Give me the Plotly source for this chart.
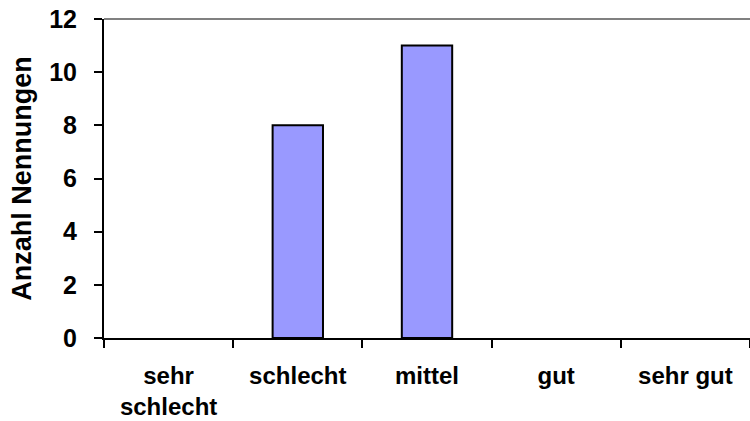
import plotly.graph_objects as go

categories = ["sehr<br>schlecht", "schlecht", "mittel", "gut", "sehr gut"]
values = [0, 8, 11, 0, 0]
y_ticks = [0, 2, 4, 6, 8, 10, 12]

FONT = "Arial, Liberation Sans, sans-serif"

fig = go.Figure(go.Bar(
    x=categories, y=values,
    marker=dict(color="#9999FF",
                line=dict(color="black", width=[2 if v else 0 for v in values])),
    width=0.39,
))

fig.update_layout(
    width=750, height=421,
    margin=dict(l=104, r=0, t=19, b=83),
    plot_bgcolor="white", paper_bgcolor="white",
    showlegend=False,
    font=dict(family=FONT, size=24, color="black"),
)
fig.update_yaxes(
    range=[0, 12], tickvals=y_ticks, showgrid=False, zeroline=False,
    showline=True, linecolor="black", linewidth=2, automargin=False,
    ticks="outside", ticklen=8, tickwidth=2, tickcolor="black",
    ticklabelstandoff=12, ticklabeloverflow="allow",
    tickfont=dict(family=FONT, size=25, color="black", weight="bold"),
    title=dict(text="<b>Anzahl Nennungen</b>", standoff=10,
               font=dict(family=FONT, size=27, color="black")),
)
fig.update_xaxes(
    type="category", showgrid=False, zeroline=False,
    showline=True, linecolor="black", linewidth=2, automargin=False,
    ticks="outside", ticklen=8, tickwidth=2, tickcolor="black",
    tickson="boundaries", ticklabelstandoff=15, ticklabeloverflow="allow",
    tickfont=dict(family=FONT, size=24, color="black", weight="bold"),
    range=[-0.5, 4.5],
)
fig.add_shape(type="line", xref="paper", yref="paper", x0=0, x1=1, y0=1, y1=1,
              line=dict(color="#808080", width=2))

fig.write_html("out.html", config={"displayModeBar": False},
               post_script="document.body.style.margin='0';")
